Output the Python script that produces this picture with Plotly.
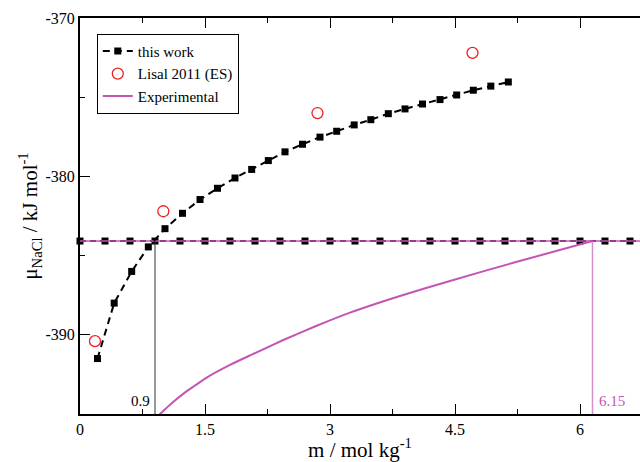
import plotly.graph_objects as go

# ---- data ----
this_work_m = [0.21, 0.41, 0.62, 0.82, 1.02, 1.23, 1.44, 1.65, 1.86, 2.06, 2.26, 2.46,
               2.67, 2.88, 3.08, 3.29, 3.49, 3.70, 3.90, 4.11, 4.32, 4.52, 4.72, 4.93, 5.14]
this_work_mu = [-391.5, -388.0, -386.0, -384.45, -383.3, -382.33, -381.46, -380.75, -380.1,
                -379.56, -379.0, -378.45, -377.97, -377.52, -377.15, -376.75, -376.42,
                -376.04, -375.74, -375.43, -375.15, -374.86, -374.56, -374.3, -374.04]

lisal_m = [0.18, 1.0, 2.85, 4.71]
lisal_mu = [-390.4, -382.2, -376.0, -372.2]

exp_m = [0.90, 0.98, 1.10, 1.25, 1.38, 1.52, 1.80, 2.04, 2.44, 2.84, 3.24, 3.84, 4.44, 5.20, 6.15]
exp_mu = [-395.3, -394.9, -394.32, -393.68, -393.2, -392.7, -391.9, -391.3, -390.33, -389.43,
          -388.6, -387.55, -386.6, -385.45, -384.08]

mu_sat = -384.08
m_sat_model = 0.9
m_sat_exp = 6.15
sat_marker_m = [0.0, 0.3, 0.6, 0.9, 1.2, 1.5, 1.8, 2.1, 2.4, 2.7, 3.0, 3.3, 3.6, 3.9,
                4.2, 4.5, 4.8, 5.1, 5.4, 5.7, 6.0, 6.3, 6.6, 6.9]

x_ticks = [0, 1.5, 3, 4.5, 6]
x_tick_text = ["0", "1.5", "3", "4.5", "6"]
y_ticks = [-370, -380, -390]
y_tick_text = ["-370", "-380", "-390"]

x_range = [0, 6.72]
y_range = [-395, -370]

MAG = "#c455b4"
FONT = "Liberation Serif, Times New Roman, serif"

fig = go.Figure()

# horizontal saturation line (model, dashed with markers)
fig.add_trace(go.Scatter(
    x=sat_marker_m, y=[mu_sat] * len(sat_marker_m), mode="lines+markers",
    line=dict(color="black", width=2, dash="6px,4px"),
    marker=dict(symbol="square", size=7, color="black"),
    showlegend=False, cliponaxis=False, hoverinfo="skip"))
# horizontal saturation line (experimental)
fig.add_trace(go.Scatter(
    x=[x_range[0], 6.9], y=[mu_sat, mu_sat], mode="lines",
    line=dict(color=MAG, width=1.5), showlegend=False, hoverinfo="skip"))

# vertical lines
fig.add_trace(go.Scatter(
    x=[m_sat_model, m_sat_model], y=[y_range[0], mu_sat], mode="lines",
    line=dict(color="#333333", width=1), showlegend=False, hoverinfo="skip"))
fig.add_trace(go.Scatter(
    x=[m_sat_exp, m_sat_exp], y=[y_range[0], mu_sat], mode="lines",
    line=dict(color="#d58fc9", width=1.5), showlegend=False, hoverinfo="skip"))

# this work
fig.add_trace(go.Scatter(
    x=this_work_m, y=this_work_mu, mode="lines+markers", name="this work",
    line=dict(color="black", width=2, dash="7px,5px"),
    marker=dict(symbol="square", size=7, color="black")))
# Lisal
fig.add_trace(go.Scatter(
    x=lisal_m, y=lisal_mu, mode="markers", name="Lisal 2011 (ES)",
    marker=dict(symbol="circle-open", size=11, color="#ee2020", line=dict(width=1.3))))
# Experimental
fig.add_trace(go.Scatter(
    x=exp_m, y=exp_mu, mode="lines", name="Experimental",
    line=dict(color=MAG, width=2, shape="spline", smoothing=0.6)))

fig.add_annotation(x=m_sat_model, y=y_range[0], xref="x", yref="y", text="0.9",
                   showarrow=False, xanchor="right", yanchor="bottom", xshift=-3, yshift=3,
                   font=dict(family=FONT, size=15, color="black"))
fig.add_annotation(x=m_sat_exp, y=y_range[0], xref="x", yref="y", text="6.15",
                   showarrow=False, xanchor="left", yanchor="bottom", xshift=4, yshift=3,
                   font=dict(family=FONT, size=15, color=MAG))

fig.update_layout(
    width=640, height=462,
    margin=dict(l=80, r=0, t=18, b=48),
    paper_bgcolor="white", plot_bgcolor="white",
    font=dict(family=FONT, size=15, color="black"),
    legend=dict(x=0.03, y=0.96, xanchor="left", yanchor="top",
                bordercolor="black", borderwidth=1, bgcolor="white",
                font=dict(family=FONT, size=15), tracegroupgap=0,
                itemwidth=30),
    xaxis=dict(range=x_range, tickvals=x_ticks, ticktext=x_tick_text,
               ticks="inside", ticklen=10, tickwidth=1, tickcolor="black",
               showline=True, linewidth=2, linecolor="black", mirror="allticks",
               showgrid=False, zeroline=False,
               minor=dict(dtick=0.75, tick0=0, ticks="inside", ticklen=5, tickcolor="black", showgrid=False),
               tickfont=dict(family=FONT, size=16),
               title=dict(text="m / mol kg<sup>-1</sup>", font=dict(family=FONT, size=21), standoff=8)),
    yaxis=dict(range=y_range, tickvals=y_ticks, ticktext=y_tick_text,
               ticks="inside", ticklen=10, tickwidth=1, tickcolor="black",
               showline=True, linewidth=2, linecolor="black", mirror=False,
               showgrid=False, zeroline=False,
               minor=dict(dtick=5, tick0=-370, ticks="inside", ticklen=5, tickcolor="black", showgrid=False),
               tickfont=dict(family=FONT, size=16),
               title=dict(text="μ<sub>NaCl</sub> / kJ mol<sup>-1</sup>", font=dict(family=FONT, size=21), standoff=2)),
)

fig.write_html("out.html")
